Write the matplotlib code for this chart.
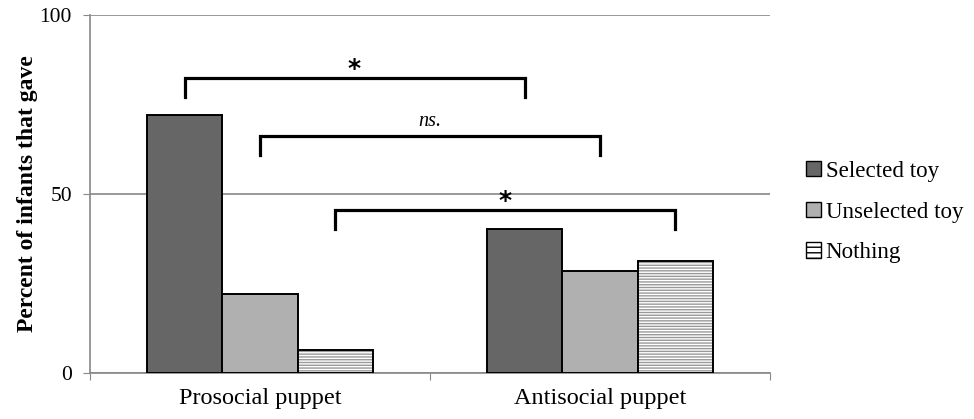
import numpy as np
import matplotlib.pyplot as plt
from matplotlib.patches import Patch

plt.rcParams['font.family'] = ['Liberation Serif', 'DejaVu Serif']

# data
categories = ['Prosocial puppet', 'Antisocial puppet']
series = ['Selected toy', 'Unselected toy', 'Nothing']
selected = [72, 40.2]
unselected = [22, 28.5]
nothing = [6.4, 31.3]

# comparison brackets: (series index, label, bracket height)
comparisons = [(0, '*', 82.4), (1, 'ns.', 66.2), (2, '*', 45.5)]

fig = plt.figure(figsize=(9.74, 4.19), dpi=100)
ax = fig.add_axes([90 / 974, 1 - 373 / 419, 680 / 974, 358 / 419])

x = np.arange(len(categories))
width = 0.222
offsets = [-width, 0, width]

ax.bar(x + offsets[0], selected, width, color='#666666', edgecolor='black', linewidth=1.4, zorder=3)
ax.bar(x + offsets[1], unselected, width, color='#b0b0b0', edgecolor='black', linewidth=1.4, zorder=3)
# hatch drawn in gray, then a black outline on top
ax.bar(x + offsets[2], nothing, width, color='white', edgecolor='#999999', hatch='------',
       linewidth=0, zorder=3)
ax.bar(x + offsets[2], nothing, width, color='none', edgecolor='black', linewidth=1.4, zorder=4)

# brackets
for idx, label, h in comparisons:
    x0 = x[0] + offsets[idx]
    x1 = x[1] + offsets[idx]
    ax.plot([x0, x0, x1, x1], [h - 5.2, h, h, h - 5.2], color='black', lw=2.3,
            solid_joinstyle='miter', zorder=5)
    if label == '*':
        ax.text((x0 + x1) / 2, h + 0.6, label, ha='center', va='baseline', fontsize=18,
                fontweight='bold', family='DejaVu Sans')
    else:
        ax.text((x0 + x1) / 2, h + 1.5, label, ha='center', va='bottom', fontsize=14.5,
                style='italic')

ax.set_xlim(-0.5, 1.5)
ax.set_ylim(0, 100)
ax.set_yticks([0, 50, 100])
ax.tick_params(axis='y', labelsize=15.5, length=5, color='#888888', pad=8)
ax.set_xticks([-0.5, 0.5, 1.5])
ax.set_xticklabels([])
ax.set_xticks(x, minor=True)
ax.set_xticklabels(categories, minor=True, fontsize=17.5)
ax.tick_params(axis='x', which='major', length=5, color='#888888')
ax.tick_params(axis='x', which='minor', length=0, pad=11)
ax.yaxis.grid(True, color='#888888', lw=1.2, zorder=0)
ax.set_axisbelow(True)
for s in ['top', 'right']:
    ax.spines[s].set_visible(False)
for s in ['left', 'bottom']:
    ax.spines[s].set_color('#888888')
    ax.spines[s].set_linewidth(1.2)

ax.set_ylabel('Percent of infants that gave', fontsize=17, fontweight='bold', labelpad=1)

handles = [
    Patch(facecolor='#666666', edgecolor='black', label=series[0]),
    Patch(facecolor='#b0b0b0', edgecolor='black', label=series[1]),
    Patch(facecolor='white', edgecolor='black', hatch='---', label=series[2]),
]
fig.legend(handles=handles, loc='center left', bbox_to_anchor=(806 / 974, 1 - 212 / 419),
           frameon=False, fontsize=16.6, handlelength=0.65, handleheight=0.65,
           handletextpad=0.2, labelspacing=0.85, borderpad=0, borderaxespad=0)

fig.savefig('out.png', dpi=100)
